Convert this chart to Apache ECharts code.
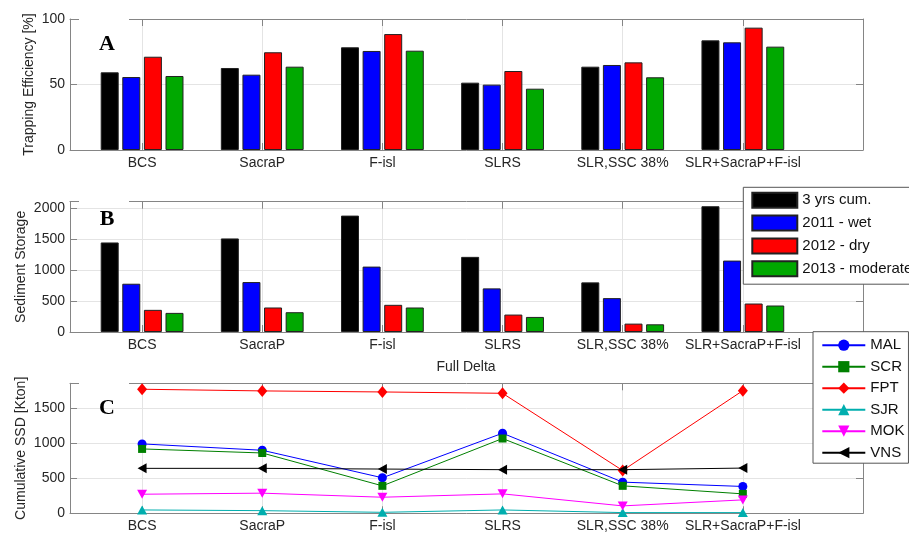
<!DOCTYPE html>
<html>
<head>
<meta charset="utf-8">
<script src="https://cdn.jsdelivr.net/npm/echarts@6/dist/echarts.min.js"></script>
<style>
  html, body { margin: 0; padding: 0; background: #ffffff; }
  #chart { width: 909px; height: 536px; }
</style>
</head>
<body>
<div id="chart"></div>
<script>
// Scenario names along the x axis of all three panels
const categories = ['BCS', 'SacraP', 'F-isl', 'SLRS', 'SLR,SSC 38%', 'SLR+SacraP+F-isl'];

// Bar series (panels A and B)
const barNames = ['3 yrs cum.', '2011 - wet', '2012 - dry', '2013 - moderate'];

// Panel A: trapping efficiency [%]
const trapCum  = [59.3, 62.6, 78.4, 51.4, 63.6, 83.7];
const trap2011 = [55.7, 57.5, 75.6, 49.9, 64.9, 82.2];
const trap2012 = [71.2, 74.6, 88.5, 60.3, 66.9, 93.4];
const trap2013 = [56.5, 63.6, 75.8, 46.8, 55.5, 78.9];

// Panel B: sediment storage
const storCum  = [1443, 1508, 1876, 1211, 800, 2027];
const stor2011 = [778, 805, 1054, 703, 546, 1151];
const stor2012 = [357, 395, 438, 281, 135, 459];
const stor2013 = [308, 319, 395, 243, 124, 427];

// Panel C: cumulative SSD [Kton] per station
const lineNames = ['MAL', 'SCR', 'FPT', 'SJR', 'MOK', 'VNS'];
const ssdMAL = [993, 902, 508, 1146, 446, 384];
const ssdSCR = [921, 863, 393, 1070, 393, 278];
const ssdFPT = [1775, 1751, 1736, 1717, 612, 1755];
const ssdSJR = [48, 38, 14, 48, 10, 10];
const ssdMOK = [273, 288, 230, 278, 106, 192];
const ssdVNS = [643, 643, 633, 624, 624, 647];

// Y tick labels
const trapTicks = [0, 50, 100];
const storTicks = [0, 500, 1000, 1500, 2000];
const ssdTicks  = [0, 500, 1000, 1500];

// ---- styling ----
const FONT = '"Liberation Sans", Arial, Helvetica, sans-serif';
const AXIS = '#858585';
const GRID = '#e4e4e4';
const TXT = '#262626';
const barColors = ['#000000', '#0000ff', '#ff0000', '#00a800'];

const catPos = categories.map((_, i) => i + 1);
const pair = (arr) => arr.map((v, i) => [catPos[i], v]);

const grids = [
  { left: 70, top: 19,    width: 793, height: 131 },
  { left: 70, top: 201.7, width: 793, height: 130.3 },
  { left: 70, top: 383.3, width: 793, height: 130 }
];

function xAxesFor(gi) {
  const common = {
    type: 'value', gridIndex: gi, min: 0.4, max: 7,
    axisLine: { show: true, onZero: false, lineStyle: { color: AXIS, width: 1 } },
    axisTick: { show: true, inside: true, length: 7, customValues: catPos, lineStyle: { color: AXIS } }
  };
  return [
    Object.assign({}, common, {
      position: 'bottom',
      axisLabel: {
        customValues: catPos, margin: 6, fontSize: 14, color: TXT, fontFamily: FONT,
        formatter: (v) => categories[Math.round(v) - 1] || ''
      },
      splitLine: { show: true, lineStyle: { color: GRID, width: 1 } }
    }),
    Object.assign({}, common, {
      position: 'top',
      axisLabel: { show: false },
      splitLine: { show: false }
    })
  ];
}

function yAxesFor(gi, max, ticks, name, nameGap) {
  const common = {
    type: 'value', gridIndex: gi, min: 0, max: max,
    axisLine: { show: true, onZero: false, lineStyle: { color: AXIS, width: 1 } },
    axisTick: { show: true, inside: true, length: 7, customValues: ticks, lineStyle: { color: AXIS } }
  };
  return [
    Object.assign({}, common, {
      position: 'left',
      name: name, nameLocation: 'middle', nameGap: nameGap, nameMoveOverlap: false,
      nameTextStyle: { fontSize: 14, color: TXT, fontFamily: FONT },
      axisLabel: {
        customValues: ticks, margin: 5, fontSize: 14, color: TXT, fontFamily: FONT,
        formatter: (v) => String(v)
      },
      splitLine: { show: true, lineStyle: { color: GRID, width: 1 } }
    }),
    Object.assign({}, common, {
      position: 'right',
      axisLabel: { show: false },
      splitLine: { show: false }
    })
  ];
}

function barSeries(gi, arrays) {
  return arrays.map((arr, k) => ({
    type: 'bar', name: barNames[k],
    xAxisIndex: gi * 2, yAxisIndex: gi * 2,
    data: pair(arr),
    barWidth: 18, barGap: '20%',
    itemStyle: { color: barColors[k], borderColor: '#222222', borderWidth: 1 }
  }));
}

const downTri = 'path://M0,0 L10,0 L5,9 Z';
const leftTri = 'path://M9,0 L9,10 L0,5 Z';

const lineDefs = [
  { name: 'MAL', data: ssdMAL, color: '#0000ff', symbol: 'circle',   size: 9 },
  { name: 'SCR', data: ssdSCR, color: '#008000', symbol: 'rect',     size: 8 },
  { name: 'FPT', data: ssdFPT, color: '#ff0000', symbol: 'diamond',  size: [10, 12] },
  { name: 'SJR', data: ssdSJR, color: '#00aeae', symbol: 'triangle', size: [10, 9] },
  { name: 'MOK', data: ssdMOK, color: '#ff00ff', symbol: downTri,    size: [10, 9] },
  { name: 'VNS', data: ssdVNS, color: '#000000', symbol: leftTri,    size: [9, 10] }
];

const lineSeries = lineDefs.map((d) => ({
  type: 'line', name: d.name,
  xAxisIndex: 4, yAxisIndex: 4,
  data: pair(d.data),
  symbol: d.symbol, symbolSize: d.size, showSymbol: true,
  lineStyle: { color: d.color, width: 1 },
  itemStyle: { color: d.color },
  emphasis: { disabled: true }
}));

// Panel letters sit in small white boxes that interrupt the top frame line
const panelTops = grids.map((g) => g.top);
const letters = ['A', 'B', 'C'];
const letterY = [44, 219, 408];
const graphics = [];
panelTops.forEach((t, i) => {
  graphics.push({
    type: 'rect', z: 50,
    shape: { x: 79, y: t - 2.5, width: 50, height: 5 },
    style: { fill: '#ffffff' }
  });
  graphics.push({
    type: 'text', z: 51, x: 107, y: letterY[i],
    style: {
      text: letters[i], font: 'bold 22px "Liberation Serif", "Times New Roman", serif',
      fill: '#000000', align: 'center', verticalAlign: 'middle',
      textAlign: 'center', textVerticalAlign: 'middle'
    }
  });
});
graphics.push({
  type: 'text', z: 51, x: 466, y: 367,
  style: {
    text: 'Full Delta', font: '14px ' + FONT, fill: TXT,
    align: 'center', verticalAlign: 'middle', textAlign: 'center', textVerticalAlign: 'middle'
  }
});

const option = {
  animation: false,
  backgroundColor: '#ffffff',
  grid: grids,
  xAxis: [].concat(xAxesFor(0), xAxesFor(1), xAxesFor(2)),
  yAxis: [].concat(
    yAxesFor(0, 100, trapTicks, 'Trapping Efficiency [%]', 34),
    yAxesFor(1, 2100, storTicks, 'Sediment Storage', 42),
    yAxesFor(2, 1860, ssdTicks, 'Cumulative SSD [Kton]', 42)
  ),
  legend: [
    {
      data: barNames, orient: 'vertical', left: 743.3, top: 187.3,
      itemWidth: 45, itemHeight: 15, itemGap: 5.8, icon: 'rect',
      padding: [4.5, 10, 7, 8],
      backgroundColor: '#ffffff', borderColor: '#555555', borderWidth: 1, borderRadius: 0,
      textStyle: { fontSize: 15, color: '#111111', fontFamily: FONT },
      selectedMode: false, z: 20
    },
    {
      data: lineNames, orient: 'vertical', left: 813, top: 331.7,
      itemWidth: 43, itemHeight: 14, itemGap: 6.5,
      padding: [6, 4, 3, 8.3],
      backgroundColor: '#ffffff', borderColor: '#555555', borderWidth: 1, borderRadius: 0,
      textStyle: { fontSize: 15, color: '#111111', fontFamily: FONT },
      selectedMode: false, z: 20
    }
  ],
  graphic: graphics,
  series: [].concat(
    barSeries(0, [trapCum, trap2011, trap2012, trap2013]),
    barSeries(1, [storCum, stor2011, stor2012, stor2013]),
    lineSeries
  )
};

const chart = echarts.init(document.getElementById('chart'), null, { renderer: 'canvas' });
chart.setOption(option);
</script>
</body>
</html>
